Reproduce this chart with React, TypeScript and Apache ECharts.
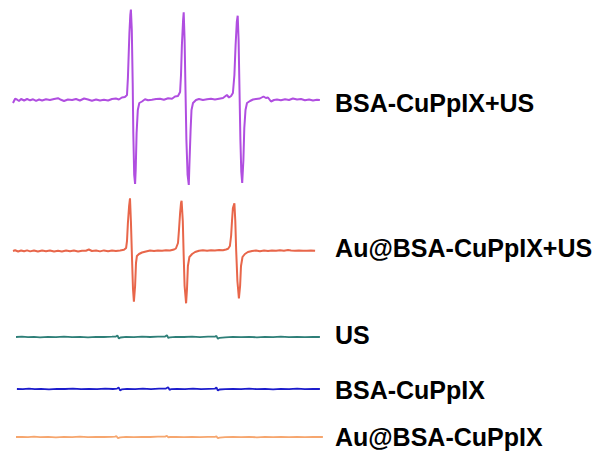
import React, { useEffect, useRef } from "react";
import * as echarts from "echarts";

// Magnetic field (G) and EPR signal (a.u.) for each sample
const purpleField = [3451.0, 3451.7, 3452.3, 3453.0, 3453.7, 3454.7, 3455.7, 3456.7, 3457.7, 3458.7, 3459.7, 3460.7, 3462.0, 3463.3, 3464.7, 3466.0, 3467.0, 3468.0, 3469.3, 3470.7, 3472.0, 3473.3, 3474.7, 3476.0, 3477.3, 3478.7, 3480.0, 3481.3, 3482.7, 3484.0, 3485.3, 3486.3, 3487.3, 3488.3, 3489.0, 3489.3, 3489.8, 3490.1, 3490.3, 3490.6, 3490.9, 3491.1, 3491.4, 3491.7, 3491.9, 3492.2, 3492.6, 3493.1, 3494.0, 3495.0, 3496.0, 3497.3, 3498.7, 3500.0, 3501.3, 3502.7, 3504.0, 3505.0, 3506.0, 3506.7, 3507.0, 3507.3, 3507.7, 3507.9, 3508.2, 3508.5, 3508.8, 3509.2, 3509.6, 3509.8, 3510.2, 3510.5, 3511.0, 3512.0, 3513.0, 3514.3, 3515.7, 3517.0, 3518.3, 3519.7, 3521.0, 3522.3, 3523.0, 3523.7, 3524.3, 3524.8, 3525.2, 3525.6, 3525.9, 3526.2, 3526.5, 3526.8, 3527.1, 3527.4, 3527.8, 3528.1, 3528.5, 3529.0, 3530.0, 3531.0, 3532.0, 3533.3, 3534.5, 3535.3, 3536.0, 3537.0, 3538.0, 3539.0, 3540.3, 3541.7, 3543.0, 3544.3, 3545.7, 3547.0, 3548.3, 3549.7, 3551.0, 3552.3, 3553.3];
const purpleSignal = [-3, 1.3, 0.5, -1, 1, -0.5, 1, -0.3, 0.7, -0.8, 0.5, -0.5, 0.7, 0, 1, 1.8, 0.2, -1, 0.5, 0, 1, -0.5, 1.5, 0.5, -0.8, 0.5, -0.5, 0.3, -0.5, 1, 1.5, 0.5, 2.5, 3, 5, 22, 67, 85, 90.5, 70, 17, -33, -75, -84, -70, -33, -10, -3, -1.5, 0.7, -0.3, 0.3, 1, 1.3, 0.2, 1.7, 1.2, 3.5, 4, 8, 25, 55, 80, 87.7, 60, 10, -40, -75, -85, -65, -30, -10, -3, 0, 1, 0, 0.7, 1.3, 0.5, 1.3, 2, 5, 2.5, 4, 7, 25, 55, 78, 84.3, 60, 10, -40, -72, -83, -60, -28, -10, -3, -1, 0.5, 1, 1.5, 3.5, 2, 2.5, -1.5, 0, 0.5, -0.3, 0.7, 0, 1.5, 0.5, 1, -0.3, 0.5, -0.5, 0.3, 0];

const redField = [3451.0, 3451.7, 3452.7, 3453.7, 3454.7, 3455.7, 3456.7, 3458.0, 3459.3, 3460.7, 3462.0, 3463.3, 3464.7, 3466.0, 3467.3, 3468.7, 3470.0, 3471.3, 3472.7, 3474.0, 3475.3, 3476.3, 3477.3, 3478.7, 3480.0, 3481.3, 3482.7, 3484.0, 3485.3, 3486.7, 3488.0, 3488.7, 3489.0, 3489.3, 3489.7, 3490.0, 3490.3, 3490.7, 3491.0, 3491.3, 3491.7, 3492.0, 3492.3, 3493.0, 3494.0, 3495.3, 3496.7, 3498.0, 3499.3, 3500.7, 3502.0, 3503.3, 3504.7, 3505.3, 3506.0, 3506.3, 3506.7, 3507.0, 3507.2, 3507.6, 3507.9, 3508.2, 3508.7, 3509.0, 3509.3, 3509.8, 3510.7, 3511.7, 3513.0, 3514.3, 3515.7, 3517.0, 3518.3, 3519.7, 3521.0, 3522.0, 3522.7, 3523.3, 3523.7, 3524.0, 3524.3, 3524.8, 3525.1, 3525.4, 3525.8, 3526.3, 3526.7, 3527.0, 3527.5, 3528.3, 3529.3, 3530.7, 3532.0, 3533.3, 3534.7, 3536.0, 3537.3, 3538.7, 3540.0, 3541.3, 3542.7, 3543.7, 3545.0, 3546.3, 3547.7, 3549.0, 3550.3, 3551.7];
const redSignal = [0, 0.7, -0.5, 0.5, -0.3, 0.6, -0.4, 0.5, -0.5, 0.4, -0.3, 0.5, -0.5, 0.3, -0.4, 0.5, -0.3, 0.4, -0.5, 0.3, 0.3, 1.5, 0, 0.5, -0.4, 0.6, -0.3, 0.5, 0, 0.6, 1.2, 3, 10, 28, 45, 52.7, 30, -10, -38, -50.7, -35, -12, -5, -3, -1.5, -0.5, 0.5, 0, 0.6, 0.2, 0.8, 0.5, 1.5, 2.5, 8, 20, 38, 48, 50.3, 30, -5, -35, -52.3, -38, -15, -6, -3, -1, 0.3, 0.8, 0.3, 0.8, 0.5, 1, 0.8, 1.5, 2.2, 5, 15, 30, 43, 47.7, 30, 0, -30, -47.3, -35, -15, -6, -3, -1, 0, 0.5, -0.3, 0.5, 0, 0.6, 0.2, 0.8, 0.3, 1, 0.6, 0.3, 0.5, 0.2, 0.3, 0.5, 0.3];

const usField = [3452.0, 3454.0, 3456.0, 3458.0, 3460.0, 3462.7, 3465.3, 3468.0, 3470.7, 3473.3, 3476.0, 3478.7, 3481.3, 3484.0, 3485.3, 3485.8, 3486.3, 3486.8, 3488.7, 3491.3, 3494.0, 3496.7, 3499.3, 3501.7, 3502.3, 3502.8, 3503.3, 3505.3, 3508.0, 3510.7, 3513.3, 3516.0, 3518.3, 3518.8, 3519.3, 3519.8, 3521.7, 3524.3, 3527.0, 3529.7, 3532.3, 3535.0, 3537.7, 3540.3, 3543.0, 3545.7, 3548.3, 3551.0, 3553.3];
const usSignal = [0, 0.3, -0.2, 0.2, -0.3, 0.2, -0.2, 0.3, -0.2, 0.2, -0.3, 0.2, 0, 0.3, 0.5, 1.5, -1.5, -0.5, 0.2, -0.2, 0.3, 0, 0.3, 0.5, 1.8, -1, -0.3, 0.2, 0, 0.3, -0.2, 0.3, 0.3, 1.2, -1.8, -0.8, -0.3, 0.2, -0.2, 0.2, -0.3, 0.2, -0.2, 0.3, -0.2, 0.2, -0.2, 0.2, 0];

const bsaField = [3452.3, 3454.3, 3456.3, 3458.3, 3460.3, 3463.0, 3465.7, 3468.3, 3471.0, 3473.7, 3476.3, 3479.0, 3481.7, 3484.3, 3485.7, 3486.2, 3486.7, 3487.2, 3489.0, 3491.7, 3494.3, 3497.0, 3499.7, 3502.0, 3502.7, 3503.2, 3503.7, 3505.7, 3508.3, 3511.0, 3513.7, 3516.3, 3518.3, 3518.8, 3519.3, 3519.8, 3521.7, 3524.3, 3527.0, 3529.7, 3532.3, 3535.0, 3537.7, 3540.3, 3543.0, 3545.7, 3548.3, 3551.0, 3553.3];
const bsaSignal = [0, -0.2, 0.3, -0.2, 0.2, -0.3, 0.2, 0, 0.3, -0.2, 0.2, -0.2, 0.3, 0, 0.4, 1.6, -1.4, -0.4, 0.2, -0.2, 0.3, -0.1, 0.3, 0.4, 1.7, -0.8, -0.2, 0.2, -0.1, 0.3, -0.2, 0.2, 0.3, 1.5, -1.6, -0.5, -0.2, 0.2, -0.2, 0.3, -0.2, 0.2, -0.3, 0.2, -0.2, 0.3, -0.2, 0.2, 0];

const auField = [3452.0, 3454.0, 3456.0, 3458.0, 3460.0, 3462.7, 3465.3, 3468.0, 3470.7, 3473.3, 3476.0, 3478.7, 3481.3, 3484.0, 3485.0, 3485.5, 3486.0, 3486.7, 3488.7, 3491.3, 3494.0, 3496.7, 3499.3, 3501.7, 3502.3, 3502.8, 3503.3, 3505.3, 3508.0, 3510.7, 3513.3, 3516.0, 3518.3, 3518.8, 3519.3, 3519.8, 3521.7, 3524.3, 3527.0, 3529.7, 3532.3, 3535.0, 3537.7, 3540.3, 3543.0, 3545.7, 3548.3, 3551.0, 3554.3];
const auSignal = [0, 0.2, -0.2, 0.3, -0.2, 0.2, -0.3, 0.2, -0.2, 0.3, -0.2, 0.2, 0, 0.2, 0.3, 0.8, -1.2, -0.4, 0.2, -0.2, 0.2, 0, 0.3, 0.4, 1.2, -0.3, 0, 0.2, -0.2, 0.2, -0.2, 0.2, 0.2, 0.6, -1.3, -0.6, -0.2, 0.2, -0.2, 0.2, -0.3, 0.2, -0.2, 0.2, -0.2, 0.2, -0.2, 0.2, 0];

const names = ["BSA-CuPpIX+US", "Au@BSA-CuPpIX+US", "US", "BSA-CuPpIX", "Au@BSA-CuPpIX"];
const colors = ["#b04ee0", "#e8664a", "#2e7f78", "#1c1ccc", "#f6a66e"];
const fields = [purpleField, redField, usField, bsaField, auField];
const signals = [purpleSignal, redSignal, usSignal, bsaSignal, auSignal];

// Vertical panel for each trace: [top, height, half-range]
const panels = [
  [0, 200, 100],
  [151, 200, 100],
  [322, 30, 15],
  [374, 30, 15],
  [422, 30, 15],
];
const labelDistance = [15, 20, 15, 15, 12];
const labelOffsetY = [3, -3, -2, 1, 0];

const FIELD_MIN = 3450;
const FIELD_MAX = 3555;

export default function App() {
  const ref = useRef<HTMLDivElement>(null);

  useEffect(() => {
    if (!ref.current) return;
    const chart = echarts.init(ref.current, undefined, { renderer: "svg" });

    const grid = panels.map(([top, height]) => ({
      left: 10,
      width: 315,
      top,
      height,
      containLabel: false,
    }));
    const xAxis = panels.map((_, i) => ({
      type: "value",
      gridIndex: i,
      min: FIELD_MIN,
      max: FIELD_MAX,
      show: false,
    }));
    const yAxis = panels.map(([, , half], i) => ({
      type: "value",
      gridIndex: i,
      min: -half,
      max: half,
      show: false,
    }));
    const series = names.map((name, i) => ({
      type: "line",
      name,
      xAxisIndex: i,
      yAxisIndex: i,
      data: fields[i].map((f, j) => [f, signals[i][j]]),
      showSymbol: false,
      symbol: "none",
      lineStyle: { color: colors[i], width: i < 2 ? 2 : 1.8 },
      itemStyle: { color: colors[i] },
      endLabel: {
        show: true,
        formatter: name,
        distance: labelDistance[i],
        offset: [0, labelOffsetY[i]],
        color: "#000",
        fontSize: 25,
        fontWeight: "bold",
        fontFamily: "Liberation Sans, Arial, sans-serif",
      },
    }));

    chart.setOption({
      animation: false,
      backgroundColor: "#fff",
      grid,
      xAxis,
      yAxis,
      series,
    });
    return () => chart.dispose();
  }, []);

  return (
    <div
      ref={ref}
      style={{ position: "fixed", left: 0, top: 0, width: 596, height: 455 }}
    />
  );
}
